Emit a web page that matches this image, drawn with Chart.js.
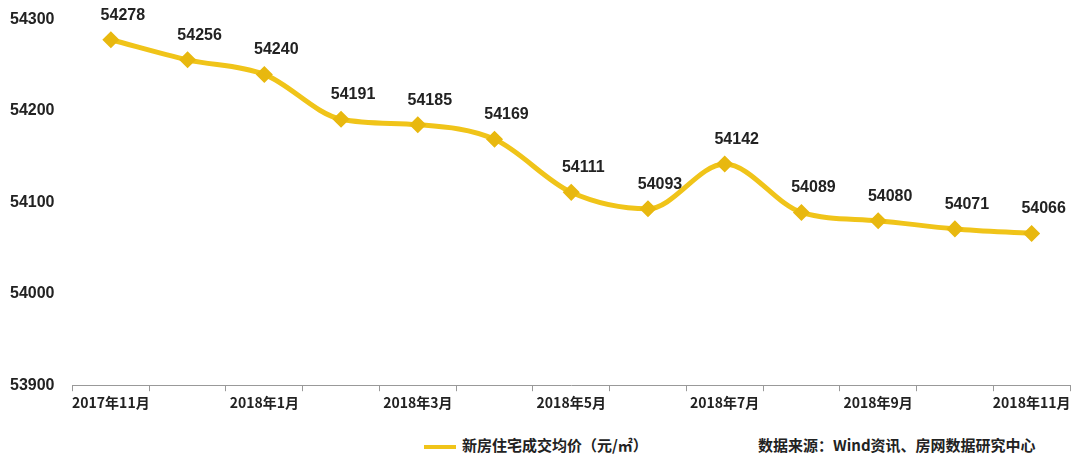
<!DOCTYPE html><html><head><meta charset="utf-8"><script src="https://cdn.jsdelivr.net/npm/chart.js@4"></script>
<style>body{margin:0;background:#fff}#w{width:1080px;height:464px;position:relative}
.lg{position:absolute;top:434px;font:bold 15px "Noto Sans CJK SC";color:#222}</style></head><body><div id="w"><canvas id="c" width="1080" height="414"></canvas>
<div class="lg" style="left:424px"><span style="display:inline-block;width:32px;height:4px;background:#F0C419;vertical-align:middle;margin-right:6px"></span>新房住宅成交均价（元/㎡）</div>
<div class="lg" style="left:758px">数据来源：Wind资讯、房网数据研究中心</div></div>
<script>
const categories=["2017年11月","2017年12月","2018年1月","2018年2月","2018年3月","2018年4月","2018年5月","2018年6月","2018年7月","2018年8月","2018年9月","2018年10月","2018年11月"];
const values=[54278,54256,54240,54191,54185,54169,54111,54093,54142,54089,54080,54071,54066];
const yTicks=[53900,54000,54100,54200,54300];
const labelsPlugin={id:'lbl',afterDatasetsDraw(ch){const m=ch.getDatasetMeta(0),x=ch.ctx;x.save();x.font='bold 16px "Liberation Sans", Arial';x.fillStyle='#222';x.textAlign='center';m.data.forEach((p,i)=>x.fillText(values[i],p.x+12,p.y-20));x.restore();}};
new Chart(document.getElementById('c'),{type:'line',data:{labels:categories,datasets:[{data:values,borderColor:'#F0C419',borderWidth:5,tension:0.4,cubicInterpolationMode:'monotone',pointStyle:'rectRot',pointRadius:5,pointBackgroundColor:'#E8B80F',pointBorderColor:'#E8B80F'}]},
options:{responsive:false,animation:false,layout:{padding:{left:0,right:4,top:12,bottom:0}},plugins:{legend:{display:false},tooltip:{enabled:false}},
scales:{x:{offset:true,grid:{offset:true,drawOnChartArea:false,tickLength:6,color:'#999'},border:{color:'#999'},ticks:{autoSkip:false,maxRotation:0,color:'#222',font:{family:'"Noto Sans CJK SC"',weight:'bold',size:14},callback:(v,i)=>i%2==0?categories[i]:''}},
y:{min:53900,max:54300,afterBuildTicks:a=>{a.ticks=yTicks.map(v=>({value:v}))},grid:{display:false},border:{display:false},ticks:{padding:10,color:'#222',font:{family:'"Liberation Sans"',weight:'bold',size:16},callback:v=>String(v)}}}},plugins:[labelsPlugin]});
</script></body></html>
